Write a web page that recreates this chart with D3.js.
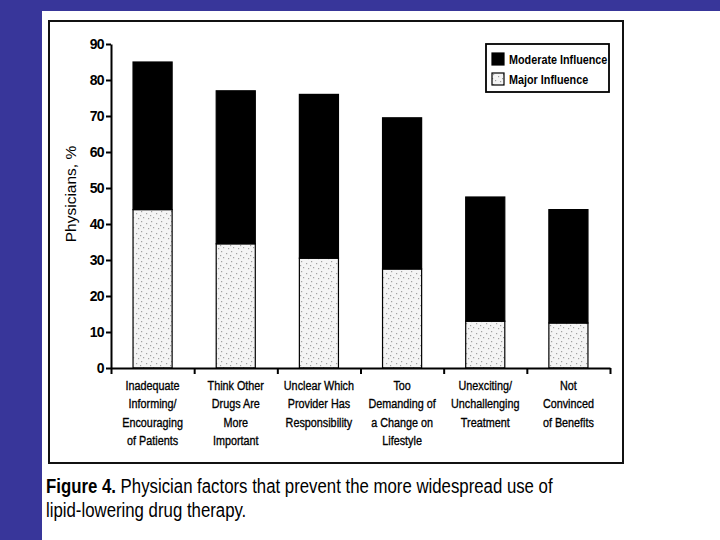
<!DOCTYPE html>
<html lang="en">
<head>
<meta charset="UTF-8">
<title>Figure 4</title>
<style>
  body { margin: 0; background: #38369a; }
  svg { display: block; }
</style>
</head>
<body>
<script src="https://d3js.org/d3.v7.min.js"></script>
<script>
    // data
    let categories = [
        "Inadequate|Informing/|Encouraging|of Patients",
        "Think Other|Drugs Are|More|Important",
        "Unclear Which|Provider Has|Responsibility",
        "Too|Demanding of|a Change on|Lifestyle",
        "Unexciting/|Unchallenging|Treatment",
        "Not|Convinced|of Benefits"
    ];
    let majorInfluence = [44, 34.5, 30.5, 27.5, 13, 12.5];
    let moderateInfluence = [41, 42.5, 45.5, 42, 34.5, 31.5];
    let yTicks = [0, 10, 20, 30, 40, 50, 60, 70, 80, 90];
    let seriesNames = ['Major Influence', 'Moderate Influence'];
    let legendItems = ['Moderate Influence', 'Major Influence'];

    let width = 720;
    let height = 540;
    let plot = { left: 111, right: 610, top: 44, bottom: 368 };
    let font = '"Liberation Sans", Arial, sans-serif';
    let squeeze = 0.8; // the original type is a condensed face

    let svg = d3.select('body').append('svg')
        .attr('width', width)
        .attr('height', height);

    // stipple for the light segment
    let defs = svg.append('defs');
    let pat = defs.append('pattern')
        .attr('id', 'stipple')
        .attr('patternUnits', 'userSpaceOnUse')
        .attr('width', 10).attr('height', 10);
    pat.append('rect').attr('width', 10).attr('height', 10).attr('fill', '#f4f4f4');
    [[1, 1], [6, 3], [3, 7], [8, 8], [0, 5]].forEach(p => {
        pat.append('rect').attr('x', p[0]).attr('y', p[1])
            .attr('width', 1.2).attr('height', 1.2).attr('fill', '#a0a0a0');
    });

    // white page + frame
    svg.append('rect').attr('x', 42).attr('y', 11).attr('width', width - 42).attr('height', height - 11)
        .attr('fill', '#ffffff');
    svg.append('rect').attr('x', 49).attr('y', 21).attr('width', 574).attr('height', 442)
        .attr('fill', 'none').attr('stroke', '#111').attr('stroke-width', 2);

    let rows = categories.map((c, i) => ({
        cat: c,
        'Major Influence': majorInfluence[i],
        'Moderate Influence': moderateInfluence[i]
    }));
    let stacked = d3.stack().keys(seriesNames)(rows);

    let xScale = d3.scaleBand()
        .domain(categories)
        .range([plot.left, plot.right])
        .paddingInner(0.53)
        .paddingOuter(0.265);
    let yScale = d3.scaleLinear()
        .domain([0, 90])
        .range([plot.bottom, plot.top]);
    let colors = { 'Major Influence': 'url(#stipple)', 'Moderate Influence': '#000' };

    let layers = svg.selectAll('g.layer').data(stacked).enter()
        .append('g').attr('class', 'layer')
        .attr('fill', d => colors[d.key]);
    layers.selectAll('rect').data(d => d).enter()
        .append('rect')
        .attr('x', d => xScale(d.data.cat))
        .attr('y', d => yScale(d[1]))
        .attr('width', xScale.bandwidth())
        .attr('height', d => yScale(d[0]) - yScale(d[1]))
        .attr('stroke', '#000')
        .attr('stroke-width', 1.2);

    // y axis
    let yAxis = svg.append('g')
        .attr('transform', 'translate(' + plot.left + ',0)')
        .call(d3.axisLeft(yScale).tickValues(yTicks).tickSize(5).tickSizeOuter(0).tickPadding(2));
    yAxis.selectAll('path, line').attr('stroke', '#000').attr('stroke-width', 2);
    yAxis.selectAll('text').attr('fill', '#000').attr('font-size', 14).attr('font-weight', 'bold')
        .attr('font-family', font).attr('letter-spacing', -0.6);

    // x axis: ticks between categories
    let xEdges = d3.scaleLinear().domain([0, categories.length]).range([plot.left, plot.right]);
    let xAxis = svg.append('g')
        .attr('transform', 'translate(0,' + plot.bottom + ')')
        .call(d3.axisBottom(xEdges).ticks(categories.length).tickSize(6).tickSizeOuter(0).tickFormat(''));
    xAxis.selectAll('path, line').attr('stroke', '#000').attr('stroke-width', 2);

    // category labels
    let labels = svg.append('g')
        .attr('transform', 'translate(0,' + plot.bottom + ')')
        .call(d3.axisBottom(xScale).tickSize(0).tickPadding(0));
    labels.select('.domain').remove();
    labels.selectAll('.tick text').each(function (d) {
        let t = d3.select(this).text(null)
            .attr('y', 22).attr('dy', null)
            .attr('transform', 'scale(' + squeeze + ',1)')
            .attr('fill', '#000').attr('stroke', '#000').attr('stroke-width', 0.35)
            .attr('font-size', 13.5)
            .attr('font-family', font);
        d.split('|').forEach((line, i) => {
            t.append('tspan').attr('x', 0).attr('dy', i === 0 ? 0 : 18.5).text(line);
        });
    });

    // y label
    svg.append('text')
        .attr('transform', 'translate(76,194) rotate(-90)')
        .attr('text-anchor', 'middle')
        .attr('font-family', font)
        .attr('font-size', 15.5)
        .attr('fill', '#000')
        .text('Physicians, %');

    // legend
    let legend = svg.append('g');
    legend.append('rect').attr('x', 486).attr('y', 44).attr('width', 123).attr('height', 48)
        .attr('fill', '#fff').attr('stroke', '#000').attr('stroke-width', 1.8);
    legendItems.forEach((name, i) => {
        let g = legend.append('g').attr('transform', 'translate(492,' + (53 + i * 20) + ')');
        g.append('rect').attr('width', 12).attr('height', 12)
            .attr('fill', colors[name]).attr('stroke', '#000').attr('stroke-width', 1.2);
        g.append('text')
            .attr('transform', 'translate(17,11) scale(' + squeeze + ',1)')
            .attr('font-size', 13.5).attr('font-weight', 'bold').attr('fill', '#000')
            .attr('font-family', font)
            .text(name);
    });

    // caption
    let capGroup = svg.append('g')
        .attr('transform', 'translate(46,0) scale(' + squeeze + ',1)')
        .attr('font-family', font)
        .attr('font-size', 21)
        .attr('fill', '#000');
    let cap = capGroup.append('text').attr('x', 0).attr('y', 493);
    cap.append('tspan').attr('font-weight', 'bold').text('Figure 4.');
    cap.append('tspan').text(' Physician factors that prevent the more widespread use of');
    capGroup.append('text').attr('x', 0).attr('y', 517)
        .text('lipid-lowering drug therapy.');
</script>
</body>
</html>
